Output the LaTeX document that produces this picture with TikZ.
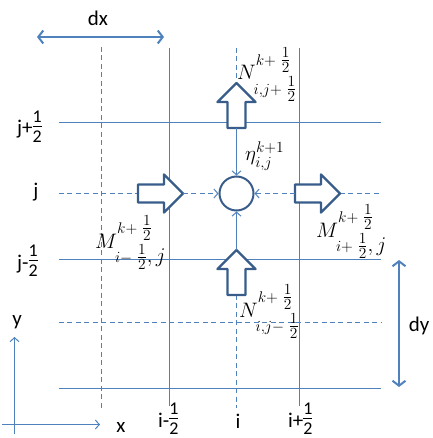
\RequirePackage{fix-cm}
\documentclass[tikz,border=0pt]{standalone}
\usepackage{amsmath}
\usepackage{fontspec}
\setmainfont{Carlito}
\usetikzlibrary{arrows.meta}
\DeclareMathSizes{21}{21}{15.5}{12}
\definecolor{gridc}{RGB}{79,129,189}
\definecolor{darkc}{RGB}{56,93,138}
\newcommand{\halffrac}{\raisebox{-8pt}{\vbox{\hbox to 9pt{\hss\fontsize{18}{18}\selectfont 1\hss}\kern4pt\hrule height0.6pt\kern4.5pt\hbox to 9pt{\hss\fontsize{18}{18}\selectfont 2\hss}}}}
\tikzset{
  gridline/.style={draw=gridc, line width=1bp},
  gdash/.style={dash pattern=on 5pt off 3.5pt},
  blockarrow/.style={draw=darkc, line width=2.4pt, fill=white, line join=round},
  conn/.style={draw=gridc, line width=1bp, -{Straight Barb[length=4pt,width=9pt]}},
  dimarrow/.style={draw=gridc, line width=2bp, {Straight Barb[length=5pt,width=13pt]}-{Straight Barb[length=5pt,width=13pt]}},
  axisarrow/.style={draw=gridc, line width=1bp, -{Straight Barb[length=4pt,width=9pt]}},
  lab/.style={font=\fontsize{21}{25}\selectfont, inner sep=0pt},
  mlab/.style={font=\fontsize{21}{25}\selectfont, inner sep=0pt, anchor=base west},
  pics/barrow/.style={code={
    \draw[blockarrow] (-22,-9) -- (4,-9) -- (4,-19) -- (23,0) -- (4,19) -- (4,9) -- (-22,9) -- cycle;
    \coordinate (-tip) at (23,0);
    \coordinate (-tail) at (-22,0);
  }}
}
\begin{document}
\begin{tikzpicture}[x=1bp,y=-1bp]
\useasboundingbox (0,0) rectangle (433,438);
% grid: solid lines
\draw[gridline] (169.5,48) -- (169.5,406);
\draw[gridline] (299.5,48) -- (299.5,406);
\draw[gridline] (59,122.5) -- (381,122.5);
\draw[gridline] (59,259.5) -- (381,259.5);
\draw[gridline] (59,388.5) -- (381,388.5);
% grid: dashed lines
\draw[gridline,gdash] (101.5,47) -- (101.5,408);
\draw[gridline,gdash] (59,322.5) -- (381,322.5);
\draw[gridline,gdash] (59,193.5) -- (138,193.5);
\draw[gridline,gdash] (340,193.5) -- (381,193.5);
\draw[gridline,gdash] (236.5,48) -- (236.5,83);
\draw[gridline,gdash] (236.5,295) -- (236.5,408);
% block arrows
\pic (Ml) at (160,193.5) {barrow};
\pic (Mr) at (317,193.5) {barrow};
\pic[rotate=90] (Nt) at (236.5,106) {barrow};
\pic[rotate=90] (Nb) at (236.5,273) {barrow};
% centre node
\node[circle, draw=darkc, line width=2pt, fill=white, minimum size=34bp, inner sep=0pt] (eta) at (236.5,193.5) {};
% connectors
\draw[conn,gdash] (Ml-tip) -- (eta);
\draw[conn,gdash] (Mr-tail) -- (eta);
\draw[conn] (Nt-tail) -- (eta);
\draw[conn] (Nb-tip) -- (eta);
% dimension arrows
\coordinate (dxa) at (37,37);
\coordinate (dxb) at (164,37);
\draw[dimarrow] (dxa) -- (dxb);
\coordinate (dya) at (399,260);
\coordinate (dyb) at (399,387);
\draw[dimarrow] (dya) -- (dyb);
% axes
\coordinate (orgy) at (14.5,434);
\coordinate (ytop) at (14.5,337);
\coordinate (orgx) at (2,424.5);
\coordinate (xend) at (100,424.5);
\draw[axisarrow] (orgy) -- (ytop);
\draw[axisarrow] (orgx) -- (xend);
% text labels
\node[lab, anchor=base] (ldx) at (98,26) {dx};
\node[lab, anchor=base] (ldy) at (419,331) {dy};
\node[lab, anchor=base] (ly) at (17,325) {y};
\node[lab, anchor=base] (lx) at (121,432) {x};
\node[lab, anchor=base west] (ljp) at (17,135) {j+\halffrac};
\node[lab, anchor=base] (lj) at (36,198) {j};
\node[lab, anchor=base west] (ljm) at (17,269) {j-\halffrac};
\node[lab, anchor=base west] (lim) at (158,427) {i-\halffrac};
\node[lab, anchor=base] (li) at (238,428) {i};
\node[lab, anchor=base west] (lip) at (288,427) {i+\halffrac};
% math labels
\node[mlab] (lNt) at (237,80) {$N^{k+\textstyle\frac{1}{2}}_{i,j+\textstyle\frac{1}{2}}$};
\node[mlab] (leta) at (245,161) {$\eta^{k+1}_{i,j}$};
\node[mlab] (lMl) at (95,248) {$M^{k+\textstyle\frac{1}{2}}_{i-\textstyle\frac{1}{2},j}$};
\node[mlab] (lMr) at (316,237) {$M^{k+\textstyle\frac{1}{2}}_{i+\textstyle\frac{1}{2},j}$};
\node[mlab] (lNb) at (239,317) {$N^{k+\textstyle\frac{1}{2}}_{i,j-\textstyle\frac{1}{2}}$};
\end{tikzpicture}
\end{document}
